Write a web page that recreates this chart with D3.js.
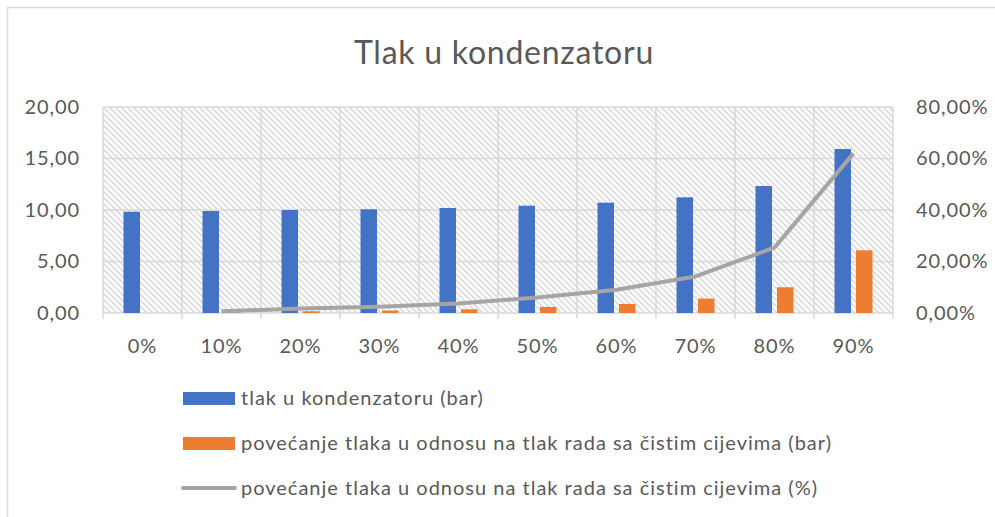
<!DOCTYPE html>
<html>
<head>
<meta charset="utf-8">
<script src="https://cdn.jsdelivr.net/npm/d3@7"></script>
<style>
  body { margin: 0; background: #fff; }
  svg text { font-family: Lato, "Open Sans", sans-serif; fill: #595959; }
</style>
</head>
<body>
<div id="chart"></div>
<script>
// data
var categories = ["0%", "10%", "20%", "30%", "40%", "50%", "60%", "70%", "80%", "90%"];
var pressure = [9.83, 9.90, 10.00, 10.07, 10.19, 10.42, 10.71, 11.23, 12.33, 15.92];
var increase = [0, 0.07, 0.17, 0.24, 0.36, 0.59, 0.88, 1.40, 2.50, 6.09];
var increasePct = [null, 0.007, 0.017, 0.024, 0.037, 0.060, 0.090, 0.142, 0.254, 0.620];
var leftTicks = [0, 5, 10, 15, 20];
var rightTicks = [0, 0.2, 0.4, 0.6, 0.8];
var legendLabels = [
    "tlak u kondenzatoru (bar)",
    "povećanje tlaka u odnosu na tlak rada sa čistim cijevima (bar)",
    "povećanje tlaka u odnosu na tlak rada sa čistim cijevima (%)"
];

var width = 995, height = 517;
var margin = { top: 107, right: 102, bottom: 204, left: 103 };
var innerW = width - margin.left - margin.right;
var innerH = height - margin.top - margin.bottom;

var svg = d3.select("#chart")
    .append("svg")
    .attr("width", width)
    .attr("height", height);

// chart border
svg.append("rect")
    .attr("x", 7.5).attr("y", 7.5)
    .attr("width", 1000).attr("height", 520)
    .attr("fill", "none")
    .attr("stroke", "#d9d9d9")
    .attr("stroke-width", 1.5);

// hatch pattern for the plot area
var pat = svg.append("defs").append("pattern")
    .attr("id", "hatch")
    .attr("patternUnits", "userSpaceOnUse")
    .attr("width", 6).attr("height", 6);
pat.append("rect").attr("width", 6).attr("height", 6).attr("fill", "#fff");
pat.append("path")
    .attr("d", "M0,0 L6,6 M-1,5 L1,7 M5,-1 L7,1")
    .attr("stroke", "#dcdcdc")
    .attr("stroke-width", 1.6);

svg.append("text")
    .attr("x", 504)
    .attr("y", 64)
    .attr("text-anchor", "middle")
    .style("font-size", "32px")
    .style("letter-spacing", "0.75px")
    .text("Tlak u kondenzatoru");

var g = svg.append("g")
    .attr("transform", "translate(" + margin.left + "," + margin.top + ")");

var x = d3.scaleBand()
    .domain(categories)
    .range([0, innerW]);

var y = d3.scaleLinear()
    .domain([0, 20])
    .range([innerH, 0]);

var y2 = d3.scaleLinear()
    .domain([0, 0.8])
    .range([innerH, 0]);

g.append("rect")
    .attr("width", innerW)
    .attr("height", innerH)
    .attr("fill", "url(#hatch)");

// horizontal gridlines
g.append("g")
    .selectAll("line")
    .data(leftTicks)
    .enter()
    .append("line")
    .attr("x1", 0).attr("x2", innerW)
    .attr("y1", function (d) { return y(d); })
    .attr("y2", function (d) { return y(d); })
    .attr("stroke", "#d9d9d9")
    .attr("stroke-width", 1.5);

// vertical gridlines at category edges
var edges = categories.map(function (c) { return x(c); }).concat([innerW]);
g.append("g")
    .selectAll("line")
    .data(edges)
    .enter()
    .append("line")
    .attr("x1", function (d) { return d; })
    .attr("x2", function (d) { return d; })
    .attr("y1", 0).attr("y2", innerH + 6)
    .attr("stroke", "#d9d9d9")
    .attr("stroke-width", 1.5);

// axes (labels only)
var fmt = function (d) { return d3.format(".2f")(d).replace(".", ","); };
var fmtPct = function (d) { return d3.format(".2f")(d * 100).replace(".", ",") + "%"; };

var yAxis = g.append("g")
    .attr("transform", "translate(-20,0)")
    .call(d3.axisLeft(y).tickValues(leftTicks).tickFormat(fmt).tickSize(0));
var y2Axis = g.append("g")
    .attr("transform", "translate(" + (innerW + 20) + ",0)")
    .call(d3.axisRight(y2).tickValues(rightTicks).tickFormat(fmtPct).tickSize(0));
var xAxis = g.append("g")
    .attr("transform", "translate(0," + (innerH + 23) + ")")
    .call(d3.axisBottom(x).tickSize(0));

[yAxis, y2Axis, xAxis].forEach(function (a) {
    a.select(".domain").remove();
    a.selectAll("text")
        .style("font-size", "20px")
        .style("letter-spacing", "0.9px")
        .attr("fill", "#595959");
});
yAxis.selectAll("text").attr("dx", 0);
y2Axis.selectAll("text").attr("dx", 0);

// bars
var barW = 16.5, gap = 5;
var mid = function (c) { return x(c) + x.bandwidth() / 2; };

g.append("g")
    .selectAll("rect")
    .data(categories)
    .enter()
    .append("rect")
    .attr("x", function (c) { return mid(c) - gap / 2 - barW; })
    .attr("y", function (c, i) { return y(pressure[i]); })
    .attr("width", barW)
    .attr("height", function (c, i) { return innerH - y(pressure[i]); })
    .attr("fill", "#4472c4");

g.append("g")
    .selectAll("rect")
    .data(categories)
    .enter()
    .append("rect")
    .attr("x", function (c) { return mid(c) + gap / 2; })
    .attr("y", function (c, i) { return y(increase[i]); })
    .attr("width", barW)
    .attr("height", function (c, i) { return innerH - y(increase[i]); })
    .attr("fill", "#ed7d31");

// percentage line
var line = d3.line()
    .defined(function (d) { return d.v != null; })
    .x(function (d) { return mid(d.c); })
    .y(function (d) { return y2(d.v); });

g.append("path")
    .datum(categories.map(function (c, i) { return { c: c, v: increasePct[i] }; }))
    .attr("d", line)
    .attr("fill", "none")
    .attr("stroke", "#a5a5a5")
    .attr("stroke-width", 4)
    .attr("stroke-linejoin", "round");

// legend
var legend = svg.append("g");
var rowY = [398, 443, 488];
legendLabels.forEach(function (label, i) {
    var row = legend.append("g").attr("transform", "translate(183," + rowY[i] + ")");
    if (i < 2) {
        row.append("rect")
            .attr("x", 0).attr("y", -6)
            .attr("width", 52).attr("height", 13)
            .attr("fill", i == 0 ? "#4472c4" : "#ed7d31");
    } else {
        row.append("line")
            .attr("x1", 0).attr("x2", 52)
            .attr("stroke", "#a5a5a5")
            .attr("stroke-width", 4)
            .attr("stroke-linecap", "round");
    }
    row.append("text")
        .attr("x", 58)
        .attr("y", 7)
        .style("font-size", "20px")
        .style("letter-spacing", "1px")
        .text(label);
});
</script>
</body>
</html>
